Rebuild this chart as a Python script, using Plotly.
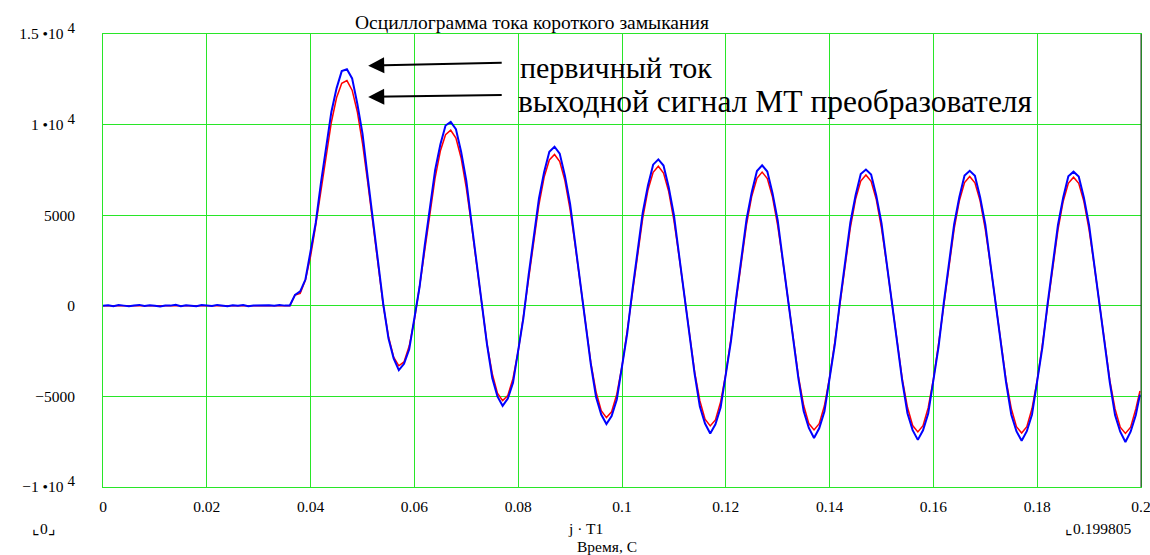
import plotly.graph_objects as go

# time grid in milliseconds (1 ms step) plus the last sample
t_ms = list(range(0, 200)) + [199.8]
t = [v / 1000.0 for v in t_ms]

# primary current (blue)
primary = [
    0, 30, -20, 40, 10, -30, 20, 50, -10, 30, 0, -40, 20, 10, 60, -20, 30, 0, -30, 40,
    10, -10, 50, 20, -20, 30, 0, 40, -30, 10, 20, -10, 30, 0, 50, 10, 20,
    600, 800, 1450, 2950, 4600, 6800, 8700, 10700, 12000, 12950,
    13050, 12550, 11150, 9500, 7100, 4750, 2200, 100, -1800, -2900,
    -3550, -3200, -2400, -750, 1050, 3350, 5400, 7500, 8900, 9950,
    10150, 9750, 8500, 6900, 4600, 2350, -120, -2150, -3980, -5000,
    -5520, -5120, -4250, -2550, -680, 1680, 3780, 5920, 7380, 8500,
    8780, 8400, 7180, 5620, 3400, 1180, -1260, -3240, -5040, -6000,
    -6520, -6080, -5170, -3440, -1530, 850, 2990, 5150, 6640, 7790,
    8080, 7740, 6540, 5010, 2800, 610, -1820, -3770, -5560, -6500,
    -7050, -6540, -5620, -3870, -1950, 450, 2600, 4780, 6270, 7440,
    7750, 7410, 6220, 4710, 2500, 330, -2090, -4030, -5810, -6740,
    -7300, -6760, -5840, -4080, -2150, 250, 2410, 4600, 6090, 7270,
    7520, 7250, 6070, 4560, 2360, 190, -2220, -4160, -5930, -6860,
    -7400, -6870, -5950, -4180, -2250, 160, 2310, 4510, 6000, 7190,
    7450, 7180, 5990, 4490, 2290, 130, -2290, -4220, -6000, -6920,
    -7450, -6920, -6000, -4230, -2300, 110, 2270, 4460, 5960, 7150,
    7400, 7140, 5960, 4450, 2260, 100, -2320, -4250, -6030, -6950,
    -7520, -6950, -6030,
    -4900,
]

# output signal of the MT converter (red)
output = [0] * 37 + [
    600, 680, 1420, 2740, 4460, 6410, 8370, 10130, 11480, 12280,
    12430, 11900, 10710, 8970, 6830, 4490, 2150, 20, -1690, -2830,
    -3310, -3100, -2220, -780, 1070, 3140, 5210, 7080, 8540, 9440,
    9690, 9260, 8160, 6510, 4460, 2200, -60, -2110, -3740, -4820,
    -5230, -4950, -4010, -2500, -590, 1540, 3670, 5590, 7100, 8050,
    8350, 7960, 6910, 5310, 3300, 1080, -1150, -3150, -4750, -5790,
    -6170, -5850, -4880, -3350, -1400, 750, 2910, 4850, 6390, 7370,
    7700, 7330, 6300, 4720, 2730, 530, -1680, -3660, -5240, -6260,
    -6630, -6300, -5310, -3760, -1800, 370, 2540, 4500, 6050, 7040,
    7380, 7020, 6000, 4430, 2450, 260, -1940, -3910, -5490, -6500,
    -6850, -6510, -5520, -3960, -2000, 180, 2360, 4320, 5880, 6880,
    7220, 6870, 5860, 4290, 2310, 130, -2060, -4040, -5600, -6610,
    -6960, -6620, -5620, -4060, -2090, 90, 2270, 4240, 5800, 6800,
    7140, 6790, 5790, 4220, 2250, 60, -2120, -4100, -5660, -6670,
    -7020, -6670, -5670, -4110, -2140, 40, 2230, 4190, 5760, 6760,
    7100, 6760, 5750, 4190, 2220, 30, -2150, -4130, -5690, -6700,
    -7040, -6700, -5690,
    -4700,
]

x_ticks = [0, 0.02, 0.04, 0.06, 0.08, 0.1, 0.12, 0.14, 0.16, 0.18, 0.2]
x_ticktext = ["0", "0.02", "0.04", "0.06", "0.08", "0.1", "0.12", "0.14", "0.16", "0.18", "0.2"]
y_ticks = [15000, 10000, 5000, 0, -5000, -10000]
SUP = "<sup><span style='font-size:15px'>4</span></sup>"
y_ticktext = ["1.5 \u202210 " + SUP, "1 \u202210 " + SUP, "5000", "0", "\u22125000",
              "\u22121 \u202210 " + SUP]

title_text = "Осциллограмма тока короткого замыкания"
label_primary = "первичный ток"
label_output = "выходной сигнал МТ преобразователя"

SERIF = "Liberation Serif, Times New Roman, serif"
GRID = "rgb(40,230,40)"
TICK = 15.5

fig = go.Figure()
fig.add_trace(go.Scatter(x=t, y=output, mode="lines",
                         line=dict(color="rgb(255,0,0)", width=1.5), showlegend=False))
fig.add_trace(go.Scatter(x=t, y=primary, mode="lines",
                         line=dict(color="rgb(0,0,255)", width=2), showlegend=False))

fig.update_layout(
    width=1150, height=555,
    margin=dict(l=103, r=9, t=34, b=68, autoexpand=False),
    paper_bgcolor="white", plot_bgcolor="white",
    font=dict(family=SERIF, size=TICK, color="black"),
    xaxis=dict(range=[0, 0.2], tickvals=x_ticks, ticktext=x_ticktext, automargin=False,
               showgrid=True, gridcolor=GRID, gridwidth=1, zeroline=False,
               showline=True, linecolor=GRID, linewidth=1, mirror=True,
               ticks="", ticklabelstandoff=5, ticklabeloverflow="allow",
               tickfont=dict(family=SERIF, size=TICK)),
    yaxis=dict(range=[-10000, 15000], tickvals=y_ticks, ticktext=y_ticktext, automargin=False,
               showgrid=True, gridcolor=GRID, gridwidth=1, zeroline=False,
               showline=True, linecolor=GRID, linewidth=1, mirror=True,
               ticks="", ticklabelstandoff=24, ticklabeloverflow="allow",
               tickfont=dict(family=SERIF, size=TICK)),
)

# dark right border
fig.add_shape(type="line", xref="paper", yref="paper", x0=1, x1=1, y0=0, y1=1,
              line=dict(color="rgb(40,40,40)", width=1))

# title
fig.add_annotation(text=title_text, xref="paper", yref="paper", x=0.413, y=1,
                   yanchor="bottom", yshift=-1, showarrow=False,
                   font=dict(family=SERIF, size=19.5))

# arrows
fig.add_annotation(x=0.0511, y=13250, xref="x", yref="y", ax=135, ay=-3, text="",
                   showarrow=True, arrowhead=2, arrowsize=1.6, arrowwidth=2, arrowcolor="black")
fig.add_annotation(x=0.0511, y=11530, xref="x", yref="y", ax=135, ay=-2, text="",
                   showarrow=True, arrowhead=2, arrowsize=1.6, arrowwidth=2, arrowcolor="black")

# labels
fig.add_annotation(text=label_primary, x=0.0800, y=13150, xref="x", yref="y",
                   xanchor="left", yanchor="middle", showarrow=False,
                   font=dict(family=SERIF, size=30))
fig.add_annotation(text=label_output, x=0.0796, y=11300, xref="x", yref="y",
                   xanchor="left", yanchor="middle", showarrow=False,
                   font=dict(family=SERIF, size=31.5))

# bottom labels
fig.add_annotation(text="\u231e0\u231f", xref="paper", yref="paper", x=-0.0703, y=0,
                   yanchor="middle", yshift=-41, showarrow=False, font=dict(family=SERIF, size=TICK))
fig.add_annotation(text="j \u00b7 T1", xref="paper", yref="paper", x=0.4644, y=0,
                   yanchor="middle", yshift=-41, showarrow=False, font=dict(family=SERIF, size=TICK))
fig.add_annotation(text="\u231e0.199805", xref="paper", yref="paper", x=0.9923, y=0,
                   xanchor="right", yanchor="middle", yshift=-41, showarrow=False,
                   font=dict(family=SERIF, size=TICK))
fig.add_annotation(text="Время, С", xref="paper", yref="paper", x=0.4855, y=0,
                   yanchor="middle", yshift=-59, showarrow=False, font=dict(family=SERIF, size=TICK))

fig.write_html("out.html", config={"displayModeBar": False},
               post_script="document.body.style.margin='0';document.body.style.overflow='hidden';")
